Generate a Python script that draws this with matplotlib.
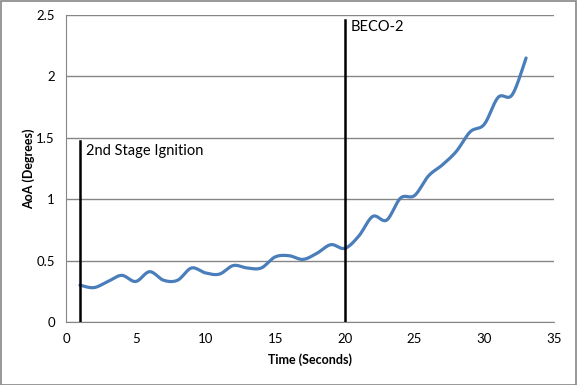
import numpy as np
import matplotlib.pyplot as plt
from matplotlib.patches import Rectangle

# AoA, one value per second
time_s = list(range(1, 34))
aoa_deg = [0.30, 0.28, 0.33, 0.38, 0.33, 0.41, 0.34, 0.34, 0.44, 0.40,
           0.39, 0.46, 0.44, 0.44, 0.53, 0.54, 0.51, 0.56, 0.63, 0.60,
           0.70, 0.86, 0.83, 1.01, 1.03, 1.19, 1.28, 1.39, 1.55, 1.61,
           1.83, 1.85, 2.15]

# event markers: time, line height, label
event_times = [1, 20]
event_tops = [1.47, 2.46]
event_labels = ["2nd Stage Ignition", "BECO-2"]
label_pos = [(1.45, 1.39), (20.4, 2.40)]


def smooth(x, y, n=20):
    # Excel-style smoothed line (cardinal bezier through every point)
    x = np.asarray(x, float)
    y = np.asarray(y, float)
    px = np.concatenate([[x[0]], x, [x[-1]]])
    py = np.concatenate([[y[0]], y, [y[-1]]])
    xs, ys = [], []
    t = np.linspace(0, 1, n, endpoint=False)
    for i in range(1, len(px) - 2):
        p0 = np.array([px[i], py[i]])
        p3 = np.array([px[i + 1], py[i + 1]])
        p1 = p0 + (np.array([px[i + 1], py[i + 1]]) - np.array([px[i - 1], py[i - 1]])) / 6
        p2 = p3 - (np.array([px[i + 2], py[i + 2]]) - np.array([px[i], py[i]])) / 6
        b = ((1 - t) ** 3)[:, None] * p0 + (3 * (1 - t) ** 2 * t)[:, None] * p1 \
            + (3 * (1 - t) * t ** 2)[:, None] * p2 + (t ** 3)[:, None] * p3
        xs.extend(b[:, 0])
        ys.extend(b[:, 1])
    xs.append(x[-1])
    ys.append(y[-1])
    return xs, ys


plt.rcParams['font.family'] = ['Lato', 'DejaVu Sans']

fig = plt.figure(figsize=(5.77, 3.85), dpi=100)
ax = fig.add_axes([0.1144, 0.1636, 0.9601 - 0.1144, 0.961 - 0.1636])

sx, sy = smooth(time_s, aoa_deg)
ax.plot(sx, sy, color='#4A7EBB', linewidth=2.3, solid_capstyle='round', zorder=3)

for t, top, lab, (lx, ly) in zip(event_times, event_tops, event_labels, label_pos):
    ax.plot([t, t], [0, top], color='black', linewidth=1.8, zorder=4)
    ax.text(lx, ly, lab, fontsize=10.5, va='center', ha='left', color='black')

ax.set_xlim(0, 35)
ax.set_ylim(0, 2.5)
ax.set_xticks(range(0, 36, 5))
ax.set_yticks([0, 0.5, 1, 1.5, 2, 2.5])
ax.set_yticklabels(['0', '0.5', '1', '1.5', '2', '2.5'])
ax.grid(axis='y', color='#868686', linewidth=1)
ax.set_axisbelow(True)
ax.tick_params(length=0, labelsize=9.5, pad=8)
for side in ['top', 'right']:
    ax.spines[side].set_visible(False)
for side in ['left', 'bottom']:
    ax.spines[side].set_color('#868686')

ax.set_xlabel("Time (Seconds)", fontsize=9, fontweight='bold', labelpad=6)
ax.set_ylabel("AoA (Degrees)", fontsize=9, fontweight='bold', labelpad=1)

fig.patches.append(Rectangle((0.001, 0.001), 0.997, 0.997, transform=fig.transFigure,
                             fill=False, edgecolor='#868686', linewidth=1.2))

fig.savefig("out.png", dpi=100)
